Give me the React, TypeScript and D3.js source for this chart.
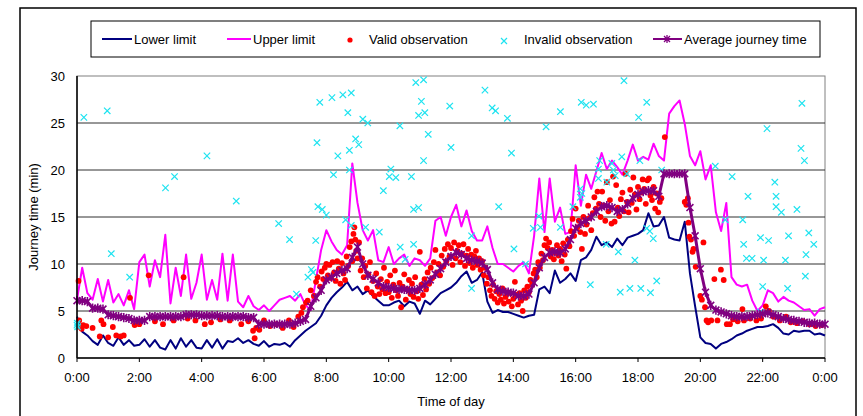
import * as d3 from 'd3';
import React from 'react';

// 10-minute grid, 0:00 .. 24:00 (145 values per series)
const STEP_HOURS = 1 / 6;

const lowerLimit = [
  4.4, 2.8, 2.4, 1.8, 1.4, 2.4,
  1.6, 1.3, 2.2, 1.4, 1.9, 1.3,
  1.4, 2.0, 1.2, 1.9, 1.1, 0.9,
  1.9, 1.0, 2.1, 1.2, 1.9, 1.1,
  1.0, 1.9, 1.1, 2.0, 1.0, 1.8,
  1.7, 2.1, 1.6, 1.9, 1.5, 1.3,
  1.8, 1.2, 1.5, 1.4, 1.6, 1.2,
  1.9, 2.4, 2.9, 3.3, 3.7, 4.5,
  5.6, 6.4, 7.0, 7.5, 8.1, 7.2,
  7.6, 6.8, 7.2, 6.6, 6.1, 5.6,
  5.6, 5.9, 6.1, 5.5, 6.0, 5.8,
  4.7, 6.1, 5.7, 6.3, 6.9, 7.2,
  7.5, 8.0, 8.7, 9.2, 8.0, 8.3,
  9.1, 6.0, 4.8, 5.1, 4.9, 4.9,
  4.7, 4.5, 4.3, 4.5, 4.6, 7.3,
  7.6, 6.9, 9.3, 8.0, 8.4, 9.0,
  8.2, 10.4, 10.7, 11.5, 12.9, 12.0,
  12.3, 11.8, 12.7, 12.0, 12.8, 13.0,
  13.2, 13.6, 15.4, 14.0, 14.1, 15.0,
  12.8, 12.6, 12.5, 14.5, 9.0, 5.5,
  2.2, 1.6, 1.5, 1.0, 1.5, 1.7,
  2.0, 2.4, 2.6, 2.9, 3.1, 3.3,
  3.3, 3.4, 3.6, 3.2, 2.6, 2.5,
  2.9, 2.8, 2.9, 2.9, 2.5, 2.6,
  2.4,
];

const upperLimit = [
  6.2, 9.6, 6.9, 6.2, 8.4, 6.0,
  8.3, 5.9, 6.8, 5.6, 7.2, 5.2,
  10.2, 11.0, 7.6, 10.4, 8.6, 13.1,
  5.8, 9.6, 6.6, 11.0, 6.3, 8.0,
  11.0, 6.2, 8.3, 6.2, 11.1, 6.1,
  11.0, 6.0, 5.4, 6.6, 5.5, 5.1,
  5.6, 5.0, 5.6, 6.2, 6.4, 6.6,
  6.1, 6.8, 5.6, 5.1, 8.3, 11.5,
  13.6, 12.4, 11.5, 11.0, 12.0, 20.7,
  16.5, 13.6, 12.5, 13.6, 10.4, 10.2,
  11.8, 10.0, 10.6, 11.0, 9.8, 10.6,
  10.4, 9.8, 10.6, 14.6, 15.0, 13.0,
  15.0, 16.3, 14.0, 15.7, 13.5, 12.5,
  12.5, 14.0, 11.7, 10.0, 10.0, 9.6,
  9.2, 9.8, 10.2, 9.0, 13.0, 19.1,
  13.4, 19.1, 14.5, 16.0, 13.2, 13.4,
  20.5, 16.2, 19.5, 18.0, 19.9, 21.8,
  20.1, 21.0, 20.3, 19.5, 21.0, 22.7,
  21.0, 21.4, 21.1, 22.8, 21.5, 21.0,
  26.0, 26.8, 27.4, 24.9, 21.5, 20.5,
  22.0, 19.0, 20.5, 15.5, 13.5, 16.5,
  8.6, 7.8, 7.6, 7.8, 6.1, 5.0,
  5.6, 7.2, 6.9, 6.0, 6.5, 6.1,
  5.9, 5.5, 5.1, 5.2, 4.5, 5.2,
  5.4,
];

const averageTime = [
  6.1, 6.1, 6.0, 5.3, 5.3, 5.2,
  4.6, 4.5, 4.4, 4.3, 4.2, 4.0,
  4.0, 4.0, 4.4, 4.4, 4.4, 4.4,
  4.4, 4.4, 4.4, 4.6, 4.6, 4.6,
  4.5, 4.5, 4.5, 4.5, 4.4, 4.4,
  4.4, 4.4, 4.4, 4.3, 4.3, 3.6,
  3.6, 3.6, 3.6, 3.6, 3.6, 3.6,
  3.7, 3.9, 4.1, 5.5, 6.4, 7.2,
  8.3, 8.6, 9.0, 9.3, 9.5, 10.7,
  11.8, 10.0, 8.8, 8.4, 8.0, 7.6,
  7.5, 7.4, 7.3, 7.3, 7.2, 7.2,
  7.4, 7.8, 8.3, 8.9, 9.5, 10.2,
  10.8, 11.2, 11.0, 10.6, 10.4, 10.3,
  10.1, 9.4, 8.0, 7.3, 7.1, 7.0,
  6.9, 6.6, 6.6, 6.8, 8.0, 9.6,
  10.7, 11.2, 11.3, 11.2, 11.6, 12.6,
  13.8, 14.3, 14.6, 15.0, 15.6, 16.1,
  16.2, 16.0, 15.6, 15.8, 16.4, 17.0,
  17.4, 17.7, 17.8, 17.8, 17.2, 19.6,
  19.6, 19.6, 19.6, 19.6, 16.0, 13.0,
  9.5, 7.0, 5.6, 5.1, 4.9, 4.7,
  4.5, 4.4, 4.4, 4.4, 4.5, 4.6,
  4.7, 4.8, 4.6, 4.4, 4.2, 4.1,
  4.0, 3.9, 3.8, 3.7, 3.7, 3.6,
  3.6,
];

// [hour of day, journey time in minutes]
const validObs: [number, number][] = [
  [0.05, 8.2], [0.07, 4.0], [0.1, 3.3], [0.15, 3.1], [0.2, 3.5], [0.3, 3.4], [0.5, 3.2],
  [0.73, 2.3], [0.78, 4.0], [0.85, 3.6], [1.0, 2.2], [1.15, 3.3], [1.26, 2.4], [1.4, 2.3],
  [1.5, 2.4], [1.7, 6.4], [1.85, 3.5], [2.0, 3.6], [2.3, 8.8], [2.5, 3.9], [2.76, 3.6],
  [3.1, 4.0], [3.42, 8.6], [3.55, 4.2], [3.8, 4.0], [4.1, 3.6], [4.3, 3.8], [4.6, 4.1],
  [4.9, 4.0], [5.27, 3.6], [5.5, 3.9], [5.65, 2.9], [5.7, 2.1], [5.75, 3.2], [5.85, 3.0],
  [6.0, 4.0], [6.2, 3.4], [6.4, 3.6], [6.6, 3.2], [6.8, 4.0], [6.95, 3.3], [7.1, 4.4],
  [7.2, 4.8], [7.25, 5.4], [7.35, 5.9], [7.4, 6.1], [7.5, 7.2], [7.6, 6.6], [7.67, 8.1],
  [7.72, 8.6], [7.8, 7.6],
  [7.85, 9.2], [7.9, 8.4], [7.95, 9.6], [8.0, 10.0], [8.05, 8.8], [8.1, 9.9], [8.15, 8.5],
  [8.2, 10.2], [8.25, 9.1], [8.3, 8.2], [8.35, 10.3], [8.4, 9.5], [8.45, 7.9], [8.5, 10.1],
  [8.55, 9.0], [8.6, 8.3], [8.65, 10.8], [8.7, 9.8], [8.75, 11.8], [8.8, 12.4], [8.83, 10.3],
  [8.87, 13.2], [8.9, 13.9], [8.93, 12.6], [8.96, 11.4], [9.0, 10.6], [9.05, 12.3], [9.1, 9.3],
  [9.15, 10.6], [9.2, 8.6], [9.25, 9.8], [9.3, 7.4], [9.35, 8.9], [9.4, 10.2], [9.45, 7.0],
  [9.5, 8.2], [9.55, 6.6], [9.6, 9.0], [9.65, 7.6], [9.7, 6.8], [9.75, 8.4], [9.8, 7.3],
  [9.85, 9.6], [9.9, 6.9], [9.95, 8.1], [10.0, 7.0], [10.05, 8.8], [10.1, 6.4], [10.15, 7.8],
  [10.2, 9.3], [10.25, 7.2], [10.3, 6.6], [10.35, 8.0], [10.4, 5.4], [10.45, 7.6], [10.5, 8.9],
  [10.55, 6.2], [10.6, 7.3], [10.65, 8.3], [10.7, 6.8], [10.75, 7.9], [10.8, 6.5], [10.85, 8.6],
  [10.9, 7.1], [10.95, 6.3], [11.0, 11.3], [11.05, 7.8], [11.1, 6.7], [11.15, 8.4], [11.2, 7.3],
  [11.25, 9.1], [11.3, 7.9], [11.35, 9.6], [11.4, 8.5], [11.45, 10.2], [11.5, 11.5], [11.55, 9.1],
  [11.6, 10.0], [11.65, 8.8], [11.7, 10.9], [11.75, 9.7], [11.8, 11.6], [11.85, 10.3], [11.9, 12.1],
  [11.95, 10.8], [12.0, 11.7], [12.05, 9.9], [12.1, 12.3], [12.15, 10.6], [12.2, 11.4], [12.25, 12.0],
  [12.3, 10.2], [12.35, 11.1], [12.4, 12.1], [12.45, 9.8], [12.5, 10.9], [12.55, 11.6], [12.6, 10.1],
  [12.65, 11.0], [12.7, 9.6], [12.75, 10.8], [12.8, 11.4], [12.85, 9.9], [12.9, 10.6], [12.95, 9.4],
  [13.0, 10.3],
  [13.05, 8.8], [13.1, 9.6], [13.15, 7.9], [13.2, 8.6], [13.25, 7.2], [13.3, 6.6], [13.35, 7.8],
  [13.4, 6.3], [13.45, 7.1], [13.5, 5.9], [13.55, 6.8], [13.6, 6.2], [13.65, 7.4], [13.7, 5.8],
  [13.75, 6.5], [13.8, 7.0], [13.85, 6.0], [13.9, 6.9], [13.95, 5.5], [14.0, 6.3], [14.05, 8.1],
  [14.1, 6.7], [14.15, 5.7], [14.2, 6.9], [14.25, 6.1], [14.3, 5.0], [14.35, 7.2], [14.4, 6.4],
  [14.45, 7.6], [14.5, 7.0], [14.55, 8.3], [14.6, 7.8], [14.65, 9.0],
  [14.7, 9.4], [14.75, 8.6], [14.8, 10.2], [14.85, 9.6], [14.9, 11.1], [14.95, 10.4], [15.0, 12.0],
  [15.05, 12.7], [15.1, 11.7], [15.15, 12.3], [15.2, 10.8], [15.25, 11.5], [15.3, 10.5], [15.35, 11.2],
  [15.4, 12.0], [15.45, 10.9], [15.5, 11.6], [15.55, 10.3], [15.6, 12.2], [15.65, 11.0], [15.7, 9.5],
  [15.75, 12.6], [15.8, 11.9], [15.85, 13.5], [15.9, 14.8], [15.95, 13.0], [16.0, 15.9], [16.05, 13.9],
  [16.1, 14.6], [16.15, 13.4], [16.2, 11.6], [16.25, 15.0], [16.3, 13.2], [16.35, 14.2], [16.4, 16.2],
  [16.45, 14.9], [16.5, 13.6], [16.55, 15.4], [16.6, 17.1], [16.65, 15.9], [16.7, 17.7], [16.75, 16.4],
  [16.8, 15.0], [16.85, 17.7], [16.9, 16.2], [16.95, 14.6], [17.0, 18.7], [17.05, 15.6], [17.1, 16.8],
  [17.15, 14.3], [17.2, 19.3], [17.25, 14.5], [17.3, 18.4], [17.35, 16.0], [17.4, 15.1], [17.45, 16.9],
  [17.5, 17.6], [17.55, 15.6], [17.6, 19.6], [17.65, 16.6], [17.7, 15.5], [17.75, 17.9], [17.8, 16.5],
  [17.85, 19.2], [17.9, 17.4], [17.95, 15.8], [18.0, 18.2], [18.05, 16.9], [18.1, 17.6], [18.15, 19.0],
  [18.2, 18.0], [18.25, 16.4], [18.3, 18.9], [18.35, 19.1], [18.4, 17.3], [18.45, 16.8], [18.5, 18.2],
  [18.55, 15.9], [18.6, 17.5], [18.65, 15.5], [18.7, 16.6], [18.75, 17.0], [18.86, 23.5],
  [19.5, 16.6], [19.55, 16.3], [19.6, 17.0], [19.62, 14.4], [19.65, 12.9], [19.7, 12.6], [19.75, 11.3],
  [19.78, 11.6], [19.85, 9.7], [20.0, 6.6], [20.05, 6.2], [20.1, 12.3], [20.15, 5.4], [20.2, 4.0],
  [20.25, 3.8], [20.35, 4.0], [20.45, 8.4], [20.55, 4.0], [20.66, 9.4], [20.75, 8.3], [20.85, 3.6],
  [20.95, 3.6], [21.05, 4.1], [21.2, 3.9], [21.35, 5.2], [21.4, 4.0], [21.6, 4.2], [21.8, 4.0],
  [21.95, 4.2], [22.1, 5.5], [22.2, 5.0], [22.35, 4.4], [22.55, 4.0], [22.75, 4.4], [22.9, 3.8],
  [23.1, 3.7], [23.3, 3.9], [23.5, 3.6], [23.7, 3.4], [23.9, 3.5],
];

const invalidObs: [number, number][] = [
  [0, 3.5], [0.02, 3.3], [0.01, 3.7], [0.22, 25.6], [0.97, 26.3], [1.1, 11.1], [1.69, 8.6],
  [2.84, 18.1], [3.13, 19.3], [4.17, 21.5], [5.11, 16.7], [6.47, 14.3], [6.82, 12.6],
  [7.04, 6.8], [7.41, 8.6], [7.52, 9.4], [7.57, 9.1], [7.66, 12.5], [7.73, 16.1], [7.7, 22.9],
  [7.79, 27.2], [7.87, 15.8], [8.0, 15.2], [8.18, 27.7], [8.37, 21.5], [8.23, 19.5],
  [8.53, 28.0], [8.8, 28.2], [8.69, 26.1], [8.74, 22.1], [8.94, 23.3], [9.04, 22.7],
  [8.74, 20.0], [8.62, 14.7], [8.8, 14.1], [9.26, 13.9], [9.17, 25.4], [9.33, 25.0],
  [9.7, 13.4], [9.83, 17.8], [10.02, 19.3], [10.07, 20.1], [10.23, 19.2], [10.37, 11.8],
  [10.53, 10.5], [10.36, 24.7], [10.73, 19.3], [10.8, 12.1], [10.8, 15.8], [10.96, 16.0],
  [10.87, 29.3], [11.12, 29.6], [11.05, 27.3], [10.96, 25.8], [11.16, 26.1], [11.27, 23.8],
  [11.12, 21.0], [11.96, 26.8], [12.0, 22.4], [12.66, 13.0], [12.66, 7.4], [13.09, 28.5],
  [13.32, 26.6], [13.43, 26.3], [13.53, 16.1], [13.81, 25.5], [13.94, 21.8], [14.02, 11.6],
  [14.39, 10.0], [14.82, 15.1], [14.64, 13.8], [14.87, 13.9], [15.05, 24.6], [15.51, 26.2],
  [15.51, 13.9], [15.91, 16.1], [16.15, 17.1], [16.18, 27.2], [16.34, 26.9], [16.57, 27.0],
  [16.15, 18.0], [16.2, 17.5], [16.47, 7.8], [16.77, 21.0], [16.73, 20.1], [16.73, 19.1],
  [16.98, 12.1], [17.0, 18.7], [17.16, 20.7], [17.21, 20.0], [17.27, 19.4], [17.37, 11.3],
  [17.48, 21.4], [17.43, 7.0], [17.55, 29.5], [17.64, 19.6], [17.74, 7.4], [17.9, 10.4],
  [18.02, 25.6], [18.06, 21.0], [18.09, 7.4], [18.28, 27.2], [18.28, 13.8], [18.4, 6.95],
  [18.38, 13.5], [18.49, 12.7], [18.6, 8.2], [18.76, 20.0], [20.48, 20.4], [21.02, 19.3],
  [20.8, 14.7], [21.36, 14.7], [21.53, 17.2], [21.39, 12.1], [21.48, 10.6], [21.66, 10.6],
  [21.93, 12.8], [22.03, 10.4], [22.0, 7.6], [22.14, 24.4], [22.19, 12.5], [22.39, 18.7],
  [22.43, 17.2], [22.43, 16.1], [22.6, 15.5], [22.73, 10.4], [22.83, 13.0], [22.8, 7.4],
  [23.1, 15.8], [23.26, 27.1], [23.23, 22.3], [23.34, 21.0], [23.48, 13.3], [23.64, 12.1],
  [23.39, 11.0], [23.37, 8.7], [21.93, 4.9],
];

const yTicks = [0, 5, 10, 15, 20, 25, 30];
const xTickHours = [0, 2, 4, 6, 8, 10, 12, 14, 16, 18, 20, 22, 24];

const COLORS = {
  lower: '#000080',
  upper: '#FF00FF',
  valid: '#FF0000',
  invalid: '#1EE3F0',
  average: '#800080',
};

const FONT = '"Liberation Sans", Arial, sans-serif';

const W = 863;
const H = 416;
const margin = { left: 77, right: 825, top: 76, bottom: 358 };

const starPath = (r: number) => {
  const d = r * 0.75;
  return `M0,${-r}V${r}M${-d},${-d}L${d},${d}M${-d},${d}L${d},${-d}`;
};
const crossPath = (r: number) => `M${-r},${-r}L${r},${r}M${-r},${r}L${r},${-r}`;

const hourLabel = (h: number) => `${h % 24}:00`;

export default function App() {
  const x = d3.scaleLinear().domain([0, 24]).range([margin.left, margin.right]);
  const y = d3.scaleLinear().domain([0, 30]).range([margin.bottom, margin.top]);

  const gridLine = d3
    .line<number>()
    .x((_, i) => x(i * STEP_HOURS))
    .y((d) => y(d));

  const legendY = 39;

  return (
    <svg
      width={W}
      height={H}
      style={{ position: 'fixed', left: 0, top: 0, background: '#fff', fontFamily: FONT }}
    >
      <rect x={0} y={0} width={W} height={H} fill="#fff" />
      {/* outer chart border */}
      <rect x={20} y={8} width={836} height={420} fill="none" stroke="#000" strokeWidth={1.5} />

      {/* legend */}
      <rect x={91} y={21} width={729} height={36} fill="#fff" stroke="#000" strokeWidth={1} />
      <g fontSize={13} fill="#000">
        <line x1={102} x2={132} y1={legendY} y2={legendY} stroke={COLORS.lower} strokeWidth={2} />
        <text x={134} y={legendY + 4.5}>Lower limit</text>
        <line x1={227} x2={251} y1={legendY} y2={legendY} stroke={COLORS.upper} strokeWidth={2} />
        <text x={253} y={legendY + 4.5}>Upper limit</text>
        <circle cx={350} cy={legendY + 1} r={2.6} fill={COLORS.valid} />
        <text x={369} y={legendY + 4.5}>Valid observation</text>
        <path d={crossPath(3)} transform={`translate(504,${legendY + 2})`} stroke={COLORS.invalid} strokeWidth={1.2} fill="none" />
        <text x={524} y={legendY + 4.5}>Invalid observation</text>
        <line x1={653} x2={682} y1={legendY} y2={legendY} stroke={COLORS.average} strokeWidth={2} />
        <path d={starPath(4)} transform={`translate(667,${legendY})`} stroke={COLORS.average} strokeWidth={1.3} fill="none" />
        <text x={684} y={legendY + 4.5}>Average journey time</text>
      </g>

      {/* plot area */}
      <rect
        x={margin.left}
        y={margin.top}
        width={margin.right - margin.left}
        height={margin.bottom - margin.top}
        fill="#fff"
        stroke="#808080"
        strokeWidth={1}
      />
      {yTicks.slice(1, -1).map((t) => (
        <line key={t} x1={margin.left} x2={margin.right} y1={y(t)} y2={y(t)} stroke="#303030" strokeWidth={1} />
      ))}

      {/* series */}
      <path d={gridLine(lowerLimit) ?? ''} fill="none" stroke={COLORS.lower} strokeWidth={2} strokeLinejoin="round" />
      <path d={gridLine(upperLimit) ?? ''} fill="none" stroke={COLORS.upper} strokeWidth={2} strokeLinejoin="round" />
      <g fill={COLORS.valid}>
        {validObs.map(([h, v], i) => (
          <circle key={i} cx={x(h)} cy={y(v)} r={2.9} />
        ))}
      </g>
      <g stroke={COLORS.invalid} strokeWidth={1.2} fill="none">
        {invalidObs.map(([h, v], i) => (
          <path key={i} d={crossPath(3.2)} transform={`translate(${x(h)},${y(v)})`} />
        ))}
      </g>
      <path d={gridLine(averageTime) ?? ''} fill="none" stroke={COLORS.average} strokeWidth={3} strokeLinejoin="round" />
      <g stroke={COLORS.average} strokeWidth={1.6} fill="none">
        {averageTime.map((v, i) => (
          <path key={i} d={starPath(4.6)} transform={`translate(${x(i * STEP_HOURS)},${y(v)})`} />
        ))}
      </g>

      {/* axes */}
      <line x1={margin.left} x2={margin.left} y1={margin.top} y2={margin.bottom} stroke="#000" strokeWidth={1.5} />
      <line x1={margin.left} x2={margin.right} y1={margin.bottom} y2={margin.bottom} stroke="#000" strokeWidth={1.5} />
      <g fontSize={13} textAnchor="end">
        {yTicks.map((t) => (
          <text key={t} x={65} y={y(t) + 4.5}>{t}</text>
        ))}
      </g>
      <g fontSize={13} textAnchor="middle">
        {xTickHours.map((h) => (
          <g key={h}>
            <line x1={x(h)} x2={x(h)} y1={margin.bottom} y2={margin.bottom + 4} stroke="#000" />
            <text x={x(h)} y={382}>{hourLabel(h)}</text>
          </g>
        ))}
      </g>
      <text x={451} y={406} fontSize={13} textAnchor="middle">Time of day</text>
      <text
        transform={`translate(38,${(margin.top + margin.bottom) / 2}) rotate(-90)`}
        fontSize={13}
        textAnchor="middle"
      >
        Journey time (min)
      </text>
    </svg>
  );
}
